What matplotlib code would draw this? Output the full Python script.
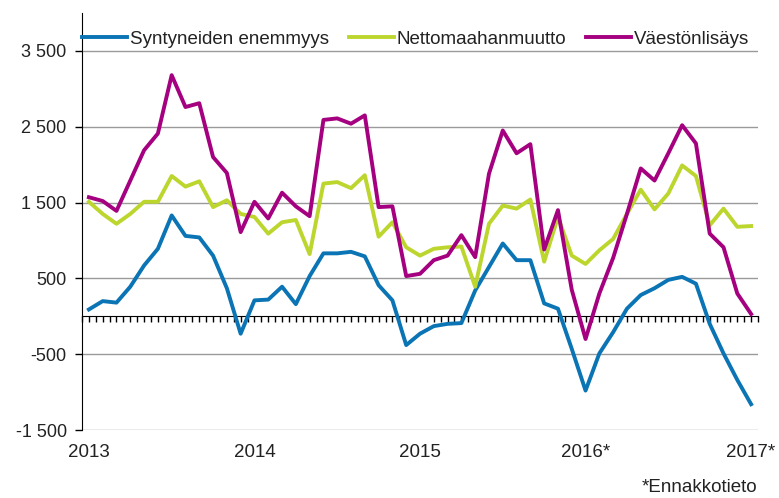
import matplotlib
matplotlib.use("Agg")
import matplotlib.pyplot as plt
import matplotlib.transforms as mtransforms
from matplotlib.ticker import FuncFormatter, MultipleLocator
import numpy as np

# Kuukausittaiset arvot 1/2013 - 1/2017
kuukaudet = np.arange(49)

syntyneiden_enemmyys = [
    90, 200, 180, 390, 670, 890, 1330, 1060, 1040, 800, 370, -230,
    210, 220, 390, 160, 530, 830, 830, 850, 790, 410, 210, -380,
    -230, -130, -100, -90, 340, 650, 960, 740, 740, 170, 100, -430,
    -980, -490, -210, 100, 280, 370, 480, 520, 430, -100, -490, -840,
    -1160,
]
nettomaahanmuutto = [
    1510, 1350, 1220, 1350, 1510, 1510, 1850, 1710, 1780, 1440, 1530, 1350,
    1310, 1090, 1240, 1270, 820, 1750, 1770, 1690, 1860, 1050, 1240, 910,
    800, 890, 910, 920, 390, 1220, 1460, 1420, 1540, 720, 1310, 800,
    690, 870, 1020, 1350, 1670, 1410, 1620, 1990, 1850, 1200, 1420, 1180,
    1190,
]
vaestonlisays = [
    1570, 1520, 1390, 1790, 2190, 2410, 3180, 2760, 2810, 2100, 1890, 1110,
    1510, 1290, 1630, 1450, 1320, 2590, 2610, 2540, 2650, 1440, 1450, 530,
    560, 740, 800, 1070, 780, 1880, 2450, 2150, 2270, 880, 1400, 350,
    -300, 300, 770, 1350, 1950, 1790, 2150, 2520, 2280, 1090, 910, 300,
    30,
]

vuodet = [0, 12, 24, 36, 48]
vuosi_nimet = ["2013", "2014", "2015", "2016*", "2017*"]
y_tikit = [-1500, -500, 500, 1500, 2500, 3500]

plt.rcParams["font.family"] = ["Liberation Sans", "DejaVu Sans"]
plt.rcParams["font.size"] = 13
teksti = "#222222"

fig = plt.figure(figsize=(7.79, 4.98), dpi=100)
ax = fig.add_axes([82 / 779, 68 / 498, 676 / 779, 417 / 498])

ax.plot(kuukaudet, syntyneiden_enemmyys, color="#0a74b4", lw=2.8,
        label="Syntyneiden enemmyys", zorder=3)
ax.plot(kuukaudet, nettomaahanmuutto, color="#bdd62e", lw=2.8,
        label="Nettomaahanmuutto", zorder=3)
ax.plot(kuukaudet, vaestonlisays, color="#a4007f", lw=2.8,
        label="Väestönlisäys", zorder=4)

ax.set_xlim(-0.5, 48.5)
ax.set_ylim(-1500, 4000)
ax.set_yticks(y_tikit)
ax.yaxis.set_major_formatter(FuncFormatter(lambda v, p: format(int(v), ",").replace(",", " ")))
ax.grid(axis="y", color="#9a9a9a", lw=1)
ax.set_axisbelow(True)

for s in ("top", "right"):
    ax.spines[s].set_visible(False)
ax.spines["left"].set_color("black")
ax.spines["bottom"].set_position(("data", 0))
ax.spines["bottom"].set_color("black")
ax.spines["bottom"].set_zorder(2)

ax.xaxis.set_major_locator(MultipleLocator(0.5))
ax.xaxis.set_major_formatter(FuncFormatter(lambda v, p: ""))
ax.tick_params(axis="x", direction="out", length=4, width=1, color="black")
ax.tick_params(axis="y", direction="out", length=5, width=1, color="black",
               pad=6, labelcolor=teksti)

trans = mtransforms.blended_transform_factory(ax.transData, ax.transAxes)
for x, nimi in zip(vuodet, vuosi_nimet):
    ax.text(x, -0.055, nimi, transform=trans, ha="center", va="center",
            color=teksti, fontsize=13.5)

ax.legend(loc="center left", bbox_to_anchor=(82 / 779, 1 - 39 / 498),
          bbox_transform=fig.transFigure, ncol=3, frameon=False,
          borderpad=0, borderaxespad=0, handlelength=2.4, handletextpad=0.16,
          columnspacing=1.05, labelcolor=teksti, fontsize=13.5)

fig.text(757 / 779, 1 - 487 / 498, "*Ennakkotieto", ha="right", va="center",
         color=teksti, fontsize=13.5)

fig.savefig("out.png", dpi=100)
